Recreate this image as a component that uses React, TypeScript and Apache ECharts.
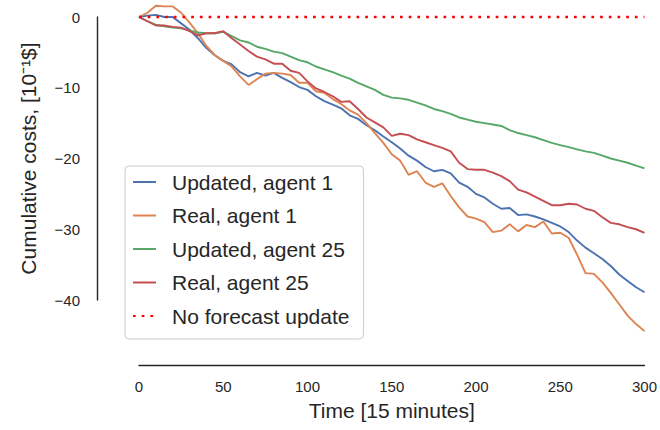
import React, { useEffect, useRef } from 'react';
import * as echarts from 'echarts';

const steps = [
  0, 5, 10, 15, 20, 25, 30, 35, 40, 45, 50, 55, 60, 65, 70, 75, 80, 85, 90, 95,
  100, 105, 110, 115, 120, 125, 130, 135, 140, 145, 150, 155, 160, 165, 170, 175, 180, 185, 190, 195,
  200, 205, 210, 215, 220, 225, 230, 235, 240, 245, 250, 255, 260, 265, 270, 275, 280, 285, 290, 295, 300,
];

const updatedAgent1 = [
  0, 0.2, 0.3, 0, 0, -0.9, -1.8, -3.0, -4.4, -5.4, -6.2, -6.7, -7.8, -8.4, -7.9, -8.3, -7.9, -8.6, -9.2, -9.9,
  -10.3, -11.2, -11.9, -12.4, -12.9, -13.9, -14.4, -15.3, -16.0, -16.9, -17.7, -18.6, -19.6, -20.3, -21.2, -21.8, -21.6, -22.1, -23.4, -24.0,
  -25.0, -25.5, -26.4, -27.1, -27.0, -28.0, -27.9, -28.2, -28.6, -29.1, -29.6, -30.4, -31.6, -32.6, -33.4, -34.2, -35.2, -36.4, -37.3, -38.2, -38.9,
];

const realAgent1 = [
  0, 0.6, 1.6, 1.5, 1.5, 0.6, -0.8, -2.3, -4.1, -5.4, -6.2, -7.0, -8.4, -9.6, -8.8, -8.0, -7.9, -8.0, -8.2, -9.3,
  -9.3, -10.5, -10.7, -11.6, -12.3, -13.2, -13.8, -15.0, -16.4, -17.8, -19.4, -20.3, -22.3, -21.8, -23.4, -24.0, -23.5, -25.3, -26.9, -28.2,
  -28.5, -29.0, -30.4, -30.2, -29.3, -30.3, -29.4, -29.7, -28.9, -30.6, -30.5, -31.2, -33.6, -36.2, -36.3, -37.5, -39.0, -40.6, -42.2, -43.4, -44.4,
];

const updatedAgent25 = [
  0, -0.6, -1.1, -1.3, -1.5, -1.6, -1.9, -2.2, -2.3, -2.3, -2.1, -2.7, -3.3, -3.6, -4.2, -4.5, -4.9, -5.1, -5.6, -6.1,
  -6.4, -7.0, -7.4, -7.8, -8.3, -8.7, -9.3, -9.8, -10.3, -11.0, -11.4, -11.5, -11.7, -12.1, -12.5, -13.0, -13.3, -13.7, -14.2, -14.5,
  -14.8, -15.0, -15.2, -15.4, -16.0, -16.4, -16.7, -17.0, -17.4, -17.8, -18.1, -18.4, -18.7, -19.0, -19.2, -19.6, -20.0, -20.3, -20.6, -21.0, -21.4,
];

const realAgent25 = [
  0, -0.6, -1.2, -1.2, -1.4, -1.5, -2.0, -2.6, -2.3, -2.3, -2.0, -3.0, -3.9, -4.8, -5.6, -6.0, -6.6, -6.6, -7.6, -7.9,
  -9.1, -10.1, -10.6, -11.2, -12.0, -11.9, -13.0, -14.2, -14.9, -15.6, -16.8, -16.5, -16.7, -17.3, -17.7, -18.1, -18.5, -19.0, -20.6, -21.5,
  -21.6, -21.6, -22.0, -22.5, -23.2, -24.4, -24.8, -25.4, -26.0, -26.6, -26.6, -26.4, -26.5, -27.1, -27.4, -28.3, -29.1, -29.3, -29.7, -30.0, -30.5,
];

const noUpdateSteps = [0, 300];
const noUpdateValues = [0, 0];

const seriesNames = ['Updated, agent 1', 'Real, agent 1', 'Updated, agent 25', 'Real, agent 25', 'No forecast update'];
const seriesColors = ['#4C72B0', '#DD8452', '#55A868', '#C44E52', '#FF0000'];

const FONT = "'Liberation Sans', Arial, sans-serif";
const INK = '#262626';

const pair = (xs: number[], ys: number[]) => xs.map((x, i) => [x, ys[i]]);

export default function App() {
  const ref = useRef<HTMLDivElement>(null);
  useEffect(() => {
    const chart = echarts.init(ref.current!, null, { renderer: 'svg' });
    const lineSeries = (name: string, color: string, data: number[][], extra: any = {}) => ({
      name,
      type: 'line',
      data,
      symbol: 'none',
      clip: false,
      color,
      lineStyle: { color, width: 1.9, ...extra },
      emphasis: { disabled: true },
    });
    chart.setOption({
      animation: false,
      textStyle: { fontFamily: FONT },
      grid: { left: 139, right: 15, top: 17, height: 283 },
      xAxis: {
        type: 'value',
        min: 0,
        max: 300,
        interval: 50,
        offset: 65,
        name: 'Time [15 minutes]',
        nameLocation: 'middle',
        nameGap: 35,
        nameTextStyle: { fontSize: 21, color: INK, fontFamily: FONT },
        axisLine: { show: true, onZero: false, lineStyle: { color: INK, width: 1.4 } },
        axisTick: { show: false },
        splitLine: { show: false },
        axisLabel: { fontSize: 15, color: INK, margin: 14, fontFamily: FONT },
      },
      yAxis: {
        type: 'value',
        min: -40,
        max: 0,
        interval: 10,
        offset: 42,
        name: 'Cumulative costs, [10⁻¹$]',
        nameLocation: 'middle',
        nameGap: 58,
        nameTextStyle: { fontSize: 21, color: INK, fontFamily: FONT },
        axisLine: { show: true, onZero: false, lineStyle: { color: INK, width: 1.4 } },
        axisTick: { show: false },
        splitLine: { show: false },
        axisLabel: {
          fontSize: 15,
          color: INK,
          margin: 17,
          fontFamily: FONT,
          formatter: (v: number) => (v < 0 ? '\u2212' + Math.abs(v) : String(v)),
        },
      },
      legend: {
        orient: 'vertical',
        left: 125,
        top: 166,
        data: seriesNames,
        itemWidth: 23,
        itemHeight: 14,
        itemGap: 11.5,
        padding: [5, 14, 12, 7],
        backgroundColor: 'rgba(255,255,255,0.8)',
        borderColor: '#cccccc',
        borderWidth: 1,
        borderRadius: 4,
        selectedMode: false,
        itemStyle: { opacity: 0 },
        textStyle: { fontSize: 21, color: INK, fontFamily: FONT, lineHeight: 22, padding: [0, 0, 0, 11] },
      },
      series: [
        lineSeries(seriesNames[0], seriesColors[0], pair(steps, updatedAgent1)),
        lineSeries(seriesNames[1], seriesColors[1], pair(steps, realAgent1)),
        lineSeries(seriesNames[2], seriesColors[2], pair(steps, updatedAgent25)),
        lineSeries(seriesNames[3], seriesColors[3], pair(steps, realAgent25)),
        lineSeries(seriesNames[4], seriesColors[4], pair(noUpdateSteps, noUpdateValues), {
          width: 2.7,
          type: [2.7, 6],
        }),
      ],
    });
    return () => chart.dispose();
  }, []);
  return <div ref={ref} style={{ position: 'absolute', left: 0, top: 0, width: 660, height: 430 }} />;
}
